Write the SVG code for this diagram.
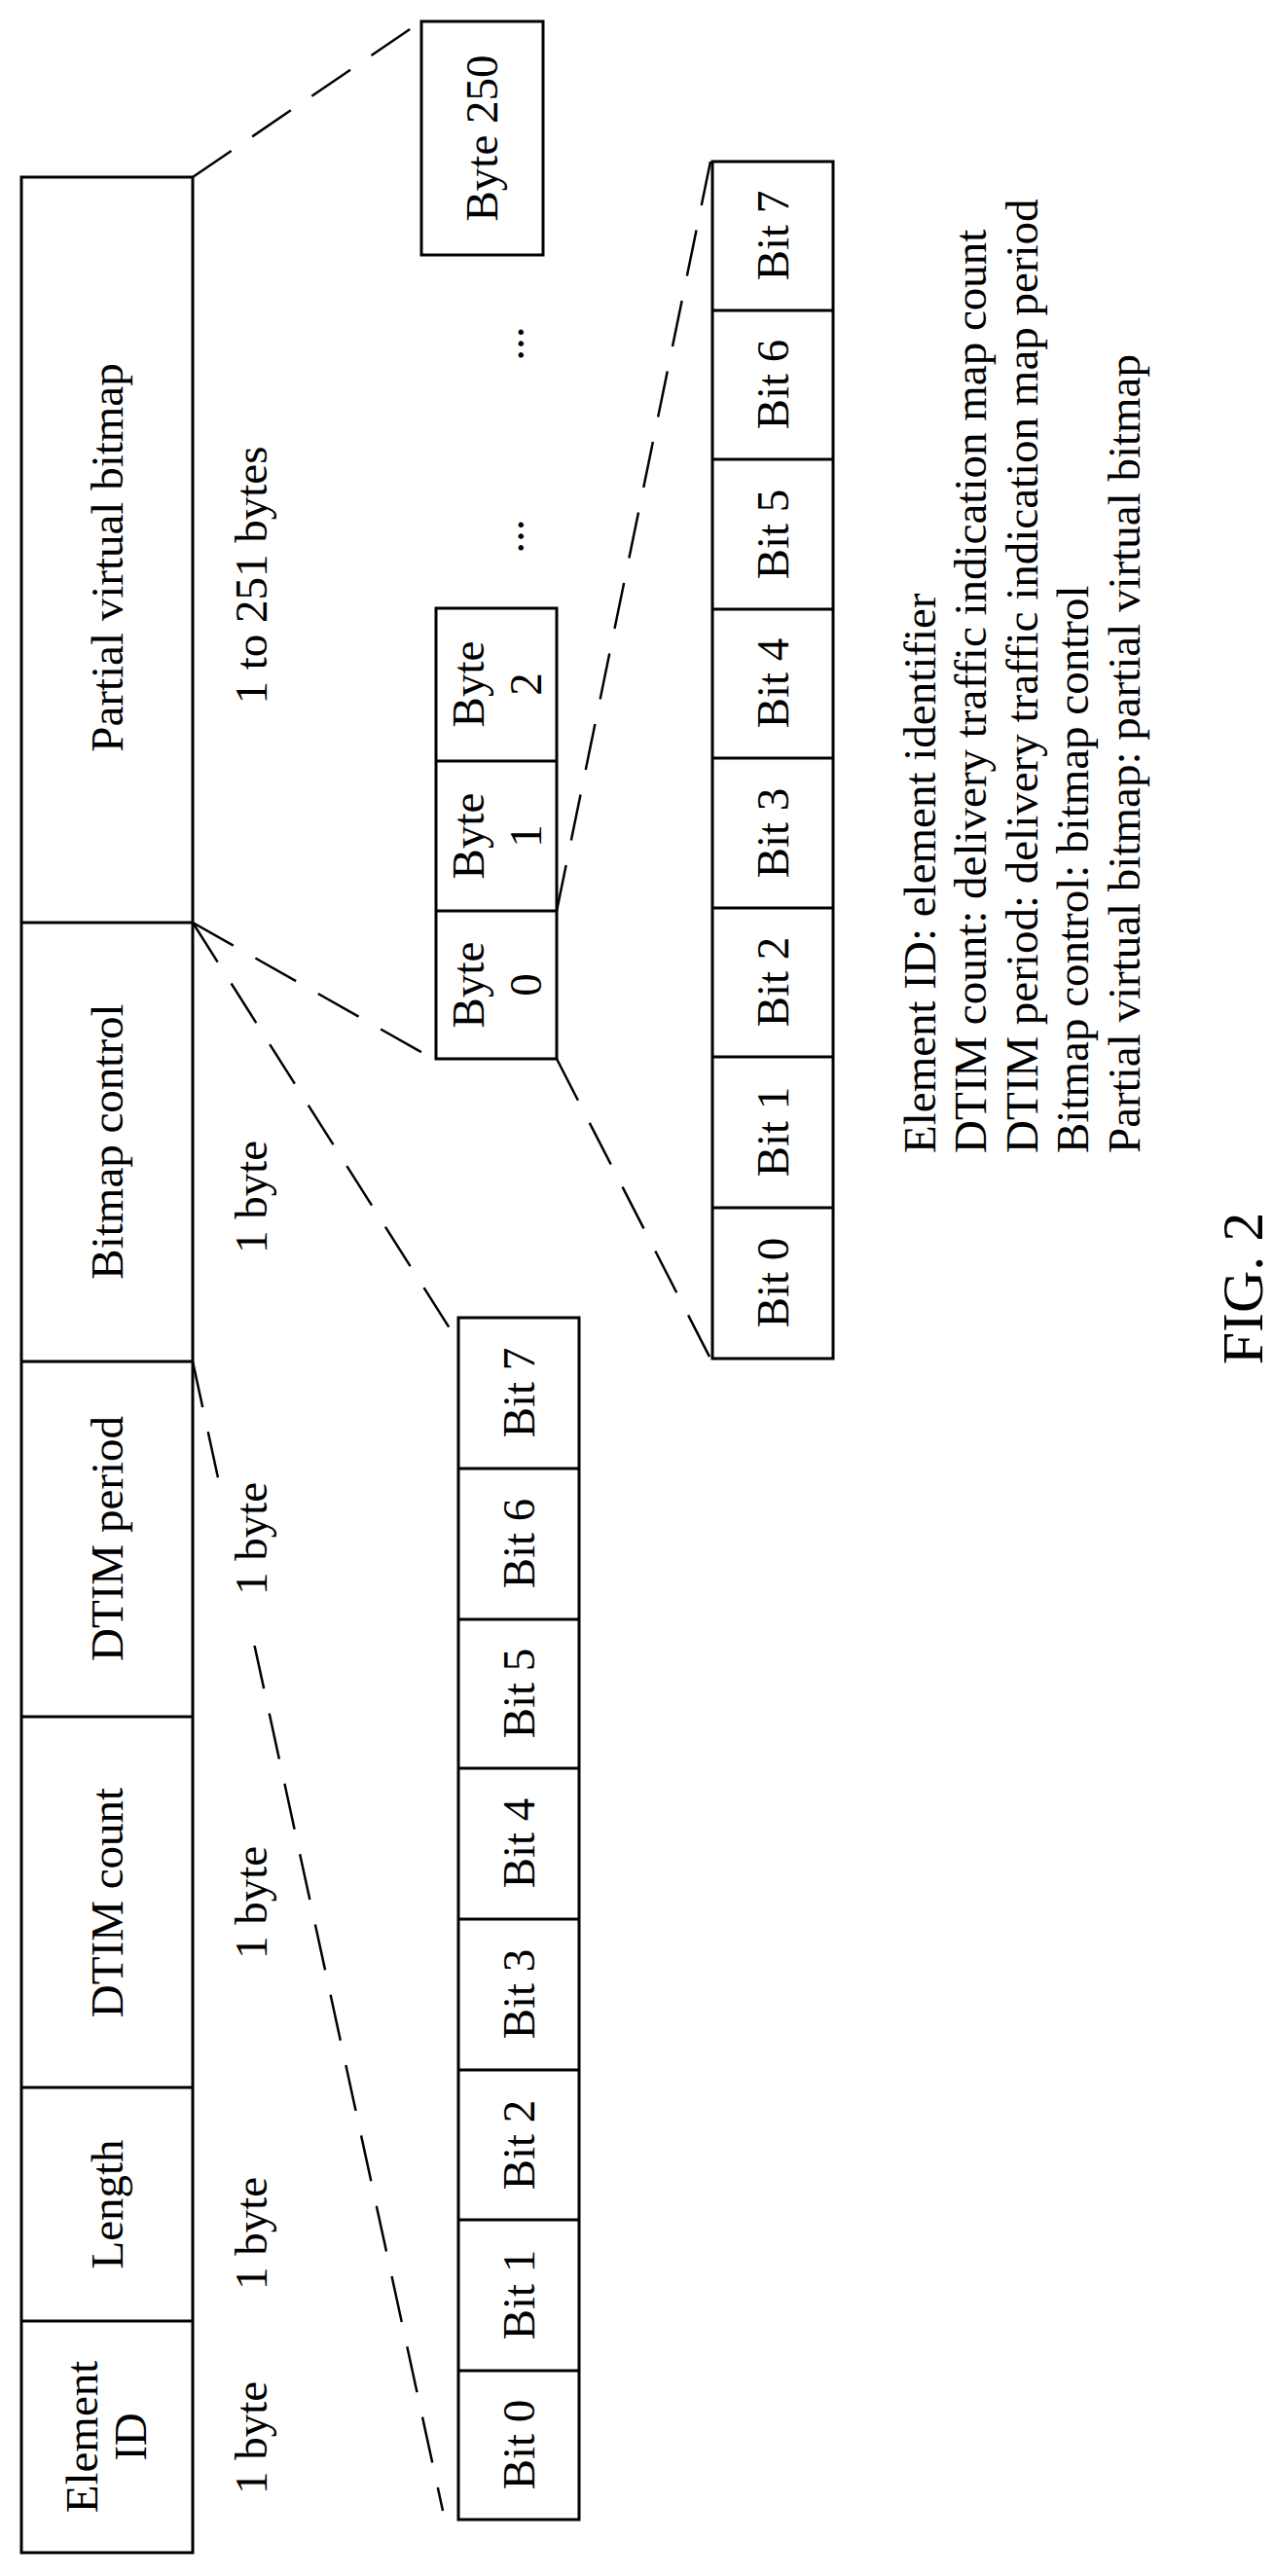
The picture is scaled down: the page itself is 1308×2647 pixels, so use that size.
<svg xmlns="http://www.w3.org/2000/svg" width="1308" height="2647" viewBox="0 0 1308 2647">
<style>
.b{fill:#fff;stroke:#000;stroke-width:3}
.l{stroke:#000;stroke-width:3}
.d{stroke:#000;stroke-width:2.5;stroke-dasharray:48 26;fill:none}
text{font-family:"Liberation Serif","Times New Roman",serif;font-size:47px;fill:#000}
.m{text-anchor:middle}
.s{text-anchor:start}
</style>
<rect width="1308" height="2647" fill="#fff"/>
<g id="connectors">
<line class="d" x1="198" y1="182" x2="433" y2="22"/>
<line class="d" x1="198" y1="948" x2="445" y2="1088"/>
<line class="d" x1="198" y1="948" x2="462" y2="1365"/>
<line class="d" x1="198" y1="1399" x2="455" y2="2580"/>
<line class="d" x1="572" y1="936" x2="730" y2="166"/>
<line class="d" x1="572" y1="1088" x2="730" y2="1396"/>
</g>
<g id="main">
<rect class="b" x="22" y="182" width="176" height="2441"/>
<line class="l" x1="22" y1="948" x2="198" y2="948"/>
<line class="l" x1="22" y1="1399" x2="198" y2="1399"/>
<line class="l" x1="22" y1="1764" x2="198" y2="1764"/>
<line class="l" x1="22" y1="2145" x2="198" y2="2145"/>
<line class="l" x1="22" y1="2385" x2="198" y2="2385"/>
<text class="m" transform="translate(110,573) rotate(-90)" dy="16">Partial virtual bitmap</text>
<text class="m" transform="translate(110,1173) rotate(-90)" dy="16">Bitmap control</text>
<text class="m" transform="translate(110,1581) rotate(-90)" dy="16">DTIM period</text>
<text class="m" transform="translate(110,1955) rotate(-90)" dy="16">DTIM count</text>
<text class="m" transform="translate(110,2265) rotate(-90)" dy="16">Length</text>
<text class="m" transform="translate(84,2504) rotate(-90)" dy="16">Element</text>
<text class="m" transform="translate(134,2504) rotate(-90)" dy="16">ID</text>
</g>
<g id="sizes">
<rect x="225" y="1498" width="65" height="193" fill="#fff"/>
<text class="m" transform="translate(258,591) rotate(-90)" dy="16">1 to 251 bytes</text>
<text class="m" transform="translate(258,1230) rotate(-90)" dy="16">1 byte</text>
<text class="m" transform="translate(258,1581) rotate(-90)" dy="16">1 byte</text>
<text class="m" transform="translate(258,1955) rotate(-90)" dy="16">1 byte</text>
<text class="m" transform="translate(258,2295) rotate(-90)" dy="16">1 byte</text>
<text class="m" transform="translate(258,2505) rotate(-90)" dy="16">1 byte</text>
</g>
<g id="bits-lower">
<rect class="b" x="471" y="1354" width="124" height="1235"/>
<line class="l" x1="471" y1="1509" x2="595" y2="1509"/>
<line class="l" x1="471" y1="1664" x2="595" y2="1664"/>
<line class="l" x1="471" y1="1817" x2="595" y2="1817"/>
<line class="l" x1="471" y1="1972" x2="595" y2="1972"/>
<line class="l" x1="471" y1="2127" x2="595" y2="2127"/>
<line class="l" x1="471" y1="2281" x2="595" y2="2281"/>
<line class="l" x1="471" y1="2436" x2="595" y2="2436"/>
<text class="m" transform="translate(533,1431) rotate(-90)" dy="16">Bit 7</text>
<text class="m" transform="translate(533,1586) rotate(-90)" dy="16">Bit 6</text>
<text class="m" transform="translate(533,1740) rotate(-90)" dy="16">Bit 5</text>
<text class="m" transform="translate(533,1894) rotate(-90)" dy="16">Bit 4</text>
<text class="m" transform="translate(533,2049) rotate(-90)" dy="16">Bit 3</text>
<text class="m" transform="translate(533,2204) rotate(-90)" dy="16">Bit 2</text>
<text class="m" transform="translate(533,2358) rotate(-90)" dy="16">Bit 1</text>
<text class="m" transform="translate(533,2512) rotate(-90)" dy="16">Bit 0</text>
</g>
<g id="byte250">
<rect class="b" x="433" y="22" width="125" height="240"/>
<text class="m" transform="translate(495,142) rotate(-90)" dy="16">Byte 250</text>
</g>
<g id="dots">
<text class="m" transform="translate(526,353) rotate(-90)" dy="12">...</text>
<text class="m" transform="translate(526,551) rotate(-90)" dy="12">...</text>
</g>
<g id="bytes">
<rect class="b" x="448" y="625" width="124" height="463"/>
<line class="l" x1="448" y1="782" x2="572" y2="782"/>
<line class="l" x1="448" y1="936" x2="572" y2="936"/>
<text class="m" transform="translate(481,703) rotate(-90)" dy="16">Byte</text>
<text class="m" transform="translate(540,703) rotate(-90)" dy="16">2</text>
<text class="m" transform="translate(481,859) rotate(-90)" dy="16">Byte</text>
<text class="m" transform="translate(540,859) rotate(-90)" dy="16">1</text>
<text class="m" transform="translate(481,1012) rotate(-90)" dy="16">Byte</text>
<text class="m" transform="translate(540,1012) rotate(-90)" dy="16">0</text>
</g>
<g id="bits-upper">
<rect class="b" x="732" y="166" width="124" height="1230"/>
<line class="l" x1="732" y1="319" x2="856" y2="319"/>
<line class="l" x1="732" y1="472" x2="856" y2="472"/>
<line class="l" x1="732" y1="626" x2="856" y2="626"/>
<line class="l" x1="732" y1="779" x2="856" y2="779"/>
<line class="l" x1="732" y1="933" x2="856" y2="933"/>
<line class="l" x1="732" y1="1086" x2="856" y2="1086"/>
<line class="l" x1="732" y1="1241" x2="856" y2="1241"/>
<text class="m" transform="translate(794,242) rotate(-90)" dy="16">Bit 7</text>
<text class="m" transform="translate(794,395) rotate(-90)" dy="16">Bit 6</text>
<text class="m" transform="translate(794,549) rotate(-90)" dy="16">Bit 5</text>
<text class="m" transform="translate(794,702) rotate(-90)" dy="16">Bit 4</text>
<text class="m" transform="translate(794,856) rotate(-90)" dy="16">Bit 3</text>
<text class="m" transform="translate(794,1009) rotate(-90)" dy="16">Bit 2</text>
<text class="m" transform="translate(794,1163) rotate(-90)" dy="16">Bit 1</text>
<text class="m" transform="translate(794,1318) rotate(-90)" dy="16">Bit 0</text>
</g>
<g id="legend">
<text class="s" transform="translate(945,1185) rotate(-90)" dy="16">Element ID: element identifier</text>
<text class="s" transform="translate(997,1185) rotate(-90)" dy="16">DTIM count: delivery traffic indication map count</text>
<text class="s" transform="translate(1050,1185) rotate(-90)" dy="16">DTIM period: delivery traffic indication map period</text>
<text class="s" transform="translate(1102,1185) rotate(-90)" dy="16">Bitmap control: bitmap control</text>
<text class="s" transform="translate(1155,1185) rotate(-90)" dy="16">Partial virtual bitmap: partial virtual bitmap</text>
</g>
<text class="m" transform="translate(1275,1324) rotate(-90)" dy="22" style="font-size:60px">FIG. 2</text>
</svg>
